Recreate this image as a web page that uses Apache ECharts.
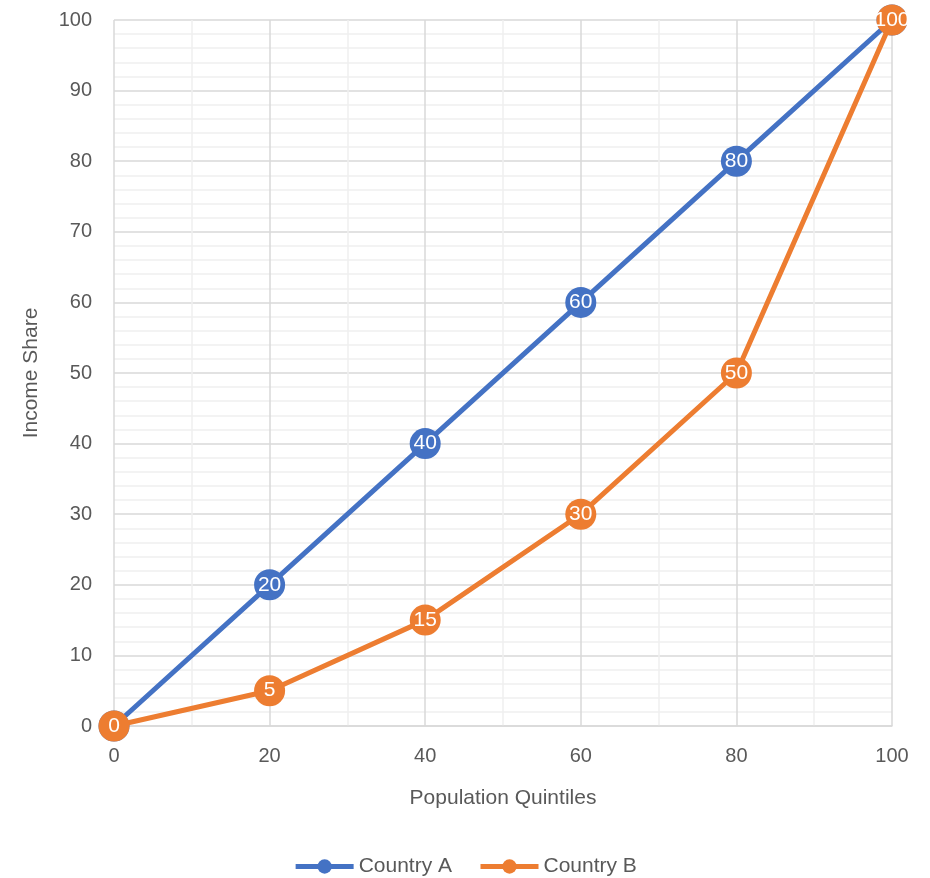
<!DOCTYPE html>
<html><head><meta charset="utf-8">
<script src="https://cdn.jsdelivr.net/npm/echarts@6/dist/echarts.min.js"></script>
<style>html,body{margin:0;padding:0;background:#fff}#c{width:930px;height:878px}</style>
</head><body><div id="c"></div>
<script>
const quintiles = [0, 20, 40, 60, 80, 100];
const countryA = [0, 20, 40, 60, 80, 100];
const countryB = [0, 5, 15, 30, 50, 100];
const seriesNames = ['Country A', 'Country B'];
const colors = ['#4472C4', '#ED7D31'];
const FONT = 'Liberation Sans';

const chart = echarts.init(document.getElementById('c'));
function mk(name, vals, color, z) {
  return {
    name: name, type: 'line', z: z,
    data: quintiles.map((x, i) => [x, vals[i]]),
    symbol: 'circle', symbolSize: 31,
    lineStyle: {width: 5, color: color},
    itemStyle: {color: color},
    label: {show: true, position: 'inside', color: '#fff', fontSize: 21, fontFamily: FONT,
      formatter: p => p.value[1]},
    emphasis: {disabled: true}
  };
}
chart.setOption({
  animation: false,
  color: colors,
  textStyle: {fontFamily: FONT},
  grid: {left: 114, right: 38, top: 20, bottom: 152, containLabel: false},
  xAxis: {
    type: 'value', min: 0, max: 100, interval: 20,
    name: 'Population Quintiles', nameLocation: 'middle', nameGap: 62,
    nameTextStyle: {fontSize: 21, color: '#595959', fontFamily: FONT},
    axisLabel: {fontSize: 20, color: '#595959', margin: 20, fontFamily: FONT},
    axisLine: {show: true, lineStyle: {color: '#d9d9d9', width: 1.5}},
    axisTick: {show: false},
    splitLine: {show: true, lineStyle: {color: '#d9d9d9', width: 1.5}},
    minorTick: {show: false, splitNumber: 2},
    minorSplitLine: {show: true, lineStyle: {color: '#efefef', width: 1.5}}
  },
  yAxis: {
    type: 'value', min: 0, max: 100, interval: 10,
    name: 'Income Share', nameLocation: 'middle', nameGap: 72, nameRotate: 90,
    nameTextStyle: {fontSize: 21, color: '#595959', fontFamily: FONT},
    axisLabel: {fontSize: 20, color: '#595959', margin: 22, fontFamily: FONT},
    axisLine: {show: false},
    axisTick: {show: false},
    splitLine: {show: true, lineStyle: {color: '#d9d9d9', width: 1.5}},
    minorTick: {show: false, splitNumber: 5},
    minorSplitLine: {show: true, lineStyle: {color: '#efefef', width: 1.5}}
  },
  legend: {
    show: true, bottom: -4, left: 'center',
    itemWidth: 58, itemHeight: 18, itemGap: 26,
    lineStyle: {width: 5},
    textStyle: {fontSize: 21, color: '#595959', fontFamily: FONT},
    data: seriesNames
  },
  series: [mk(seriesNames[0], countryA, colors[0], 2), mk(seriesNames[1], countryB, colors[1], 3)]
});
</script></body></html>
